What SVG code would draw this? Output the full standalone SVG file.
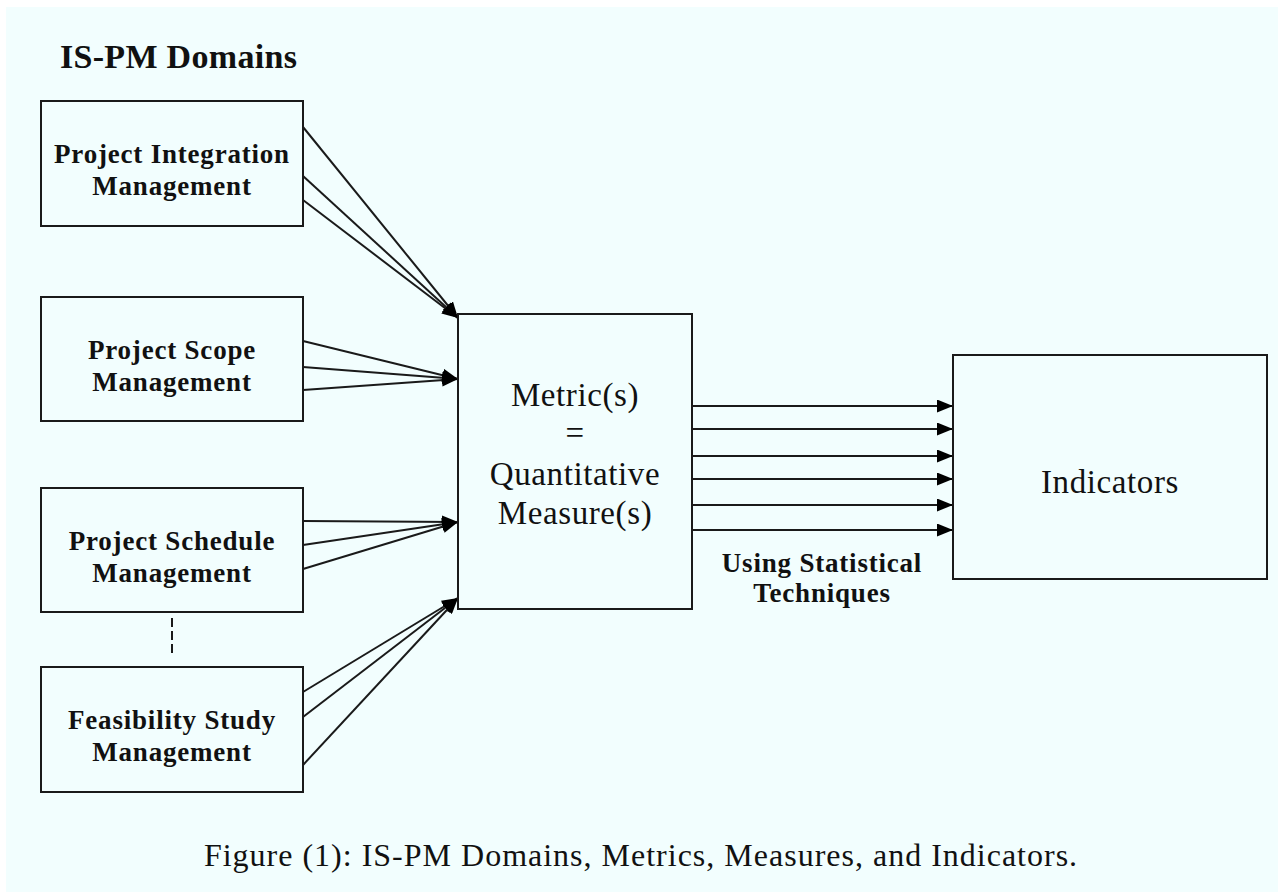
<svg xmlns="http://www.w3.org/2000/svg" width="1278" height="892" viewBox="0 0 1278 892">
  <style>
    .box { fill: none; stroke: #1a1a1a; stroke-width: 2; }
    .conn { stroke: #1a1a1a; stroke-width: 2; fill: none; }
    .bold { font-family: "Liberation Serif", "Times New Roman", serif; font-weight: bold; font-size: 27px; fill: #111; letter-spacing: 0.8px; text-anchor: middle; }
    .reg { font-family: "Liberation Serif", "Times New Roman", serif; font-size: 33px; fill: #111; letter-spacing: 0.6px; text-anchor: middle; }
  </style>
  <defs>
    <marker id="arrow" viewBox="0 0 16 13" refX="16" refY="6.5" markerWidth="16" markerHeight="13" markerUnits="userSpaceOnUse" orient="auto">
      <path d="M0,0 L16,6.5 L0,13 z" fill="#000"/>
    </marker>
  </defs>
  <rect x="0" y="0" width="1278" height="892" fill="#ffffff"/>
  <rect x="6" y="7" width="1272" height="885" fill="#f2fefe"/>

  <text x="60" y="68" style="font-family: 'Liberation Serif', 'Times New Roman', serif; font-weight: bold; font-size: 34px; fill: #111; letter-spacing: 0.3px;">IS-PM Domains</text>

  <g id="connectors">
    <line class="conn" x1="303" y1="127" x2="458" y2="318" marker-end="url(#arrow)"/>
    <line class="conn" x1="303" y1="176" x2="458" y2="318" marker-end="url(#arrow)"/>
    <line class="conn" x1="303" y1="200" x2="458" y2="318" marker-end="url(#arrow)"/>

    <line class="conn" x1="303" y1="341" x2="458" y2="379" marker-end="url(#arrow)"/>
    <line class="conn" x1="303" y1="367" x2="458" y2="379" marker-end="url(#arrow)"/>
    <line class="conn" x1="303" y1="390" x2="458" y2="379" marker-end="url(#arrow)"/>

    <line class="conn" x1="303" y1="521" x2="458" y2="522" marker-end="url(#arrow)"/>
    <line class="conn" x1="303" y1="545" x2="458" y2="522" marker-end="url(#arrow)"/>
    <line class="conn" x1="303" y1="569" x2="458" y2="522" marker-end="url(#arrow)"/>

    <line class="conn" x1="303" y1="692" x2="458" y2="598" marker-end="url(#arrow)"/>
    <line class="conn" x1="303" y1="717" x2="458" y2="598" marker-end="url(#arrow)"/>
    <line class="conn" x1="303" y1="765" x2="458" y2="598" marker-end="url(#arrow)"/>

    <line class="conn" x1="693" y1="406" x2="953" y2="406" marker-end="url(#arrow)"/>
    <line class="conn" x1="693" y1="429" x2="953" y2="429" marker-end="url(#arrow)"/>
    <line class="conn" x1="693" y1="456" x2="953" y2="456" marker-end="url(#arrow)"/>
    <line class="conn" x1="693" y1="479" x2="953" y2="479" marker-end="url(#arrow)"/>
    <line class="conn" x1="693" y1="505" x2="953" y2="505" marker-end="url(#arrow)"/>
    <line class="conn" x1="693" y1="530" x2="953" y2="530" marker-end="url(#arrow)"/>

    <line class="conn" x1="172" y1="618" x2="172" y2="657" stroke-dasharray="9 4"/>
  </g>

  <g id="node-integration">
    <rect class="box" x="41" y="101" width="262" height="125"/>
    <text class="bold" x="172" y="163">Project Integration</text>
    <text class="bold" x="172" y="195">Management</text>
  </g>
  <g id="node-scope">
    <rect class="box" x="41" y="297" width="262" height="124"/>
    <text class="bold" x="172" y="359">Project Scope</text>
    <text class="bold" x="172" y="391">Management</text>
  </g>
  <g id="node-schedule">
    <rect class="box" x="41" y="488" width="262" height="124"/>
    <text class="bold" x="172" y="550">Project Schedule</text>
    <text class="bold" x="172" y="582">Management</text>
  </g>
  <g id="node-feasibility">
    <rect class="box" x="41" y="667" width="262" height="125"/>
    <text class="bold" x="172" y="729">Feasibility Study</text>
    <text class="bold" x="172" y="761">Management</text>
  </g>

  <g id="node-metrics">
    <rect class="box" x="458" y="314" width="234" height="295"/>
    <text class="reg" x="575" y="406">Metric(s)</text>
    <text class="reg" x="575" y="444">=</text>
    <text class="reg" x="575" y="485">Quantitative</text>
    <text class="reg" x="575" y="524">Measure(s)</text>
  </g>

  <g id="label-statistical">
    <text class="bold" x="822" y="572">Using Statistical</text>
    <text class="bold" x="822" y="602">Techniques</text>
  </g>

  <g id="node-indicators">
    <rect class="box" x="953" y="355" width="314" height="224"/>
    <text class="reg" x="1110" y="493">Indicators</text>
  </g>

  <text x="641" y="866" style="font-family: 'Liberation Serif', 'Times New Roman', serif; font-size: 32px; fill: #111; letter-spacing: 1px; text-anchor: middle;">Figure (1): IS-PM Domains, Metrics, Measures, and Indicators.</text>
</svg>
